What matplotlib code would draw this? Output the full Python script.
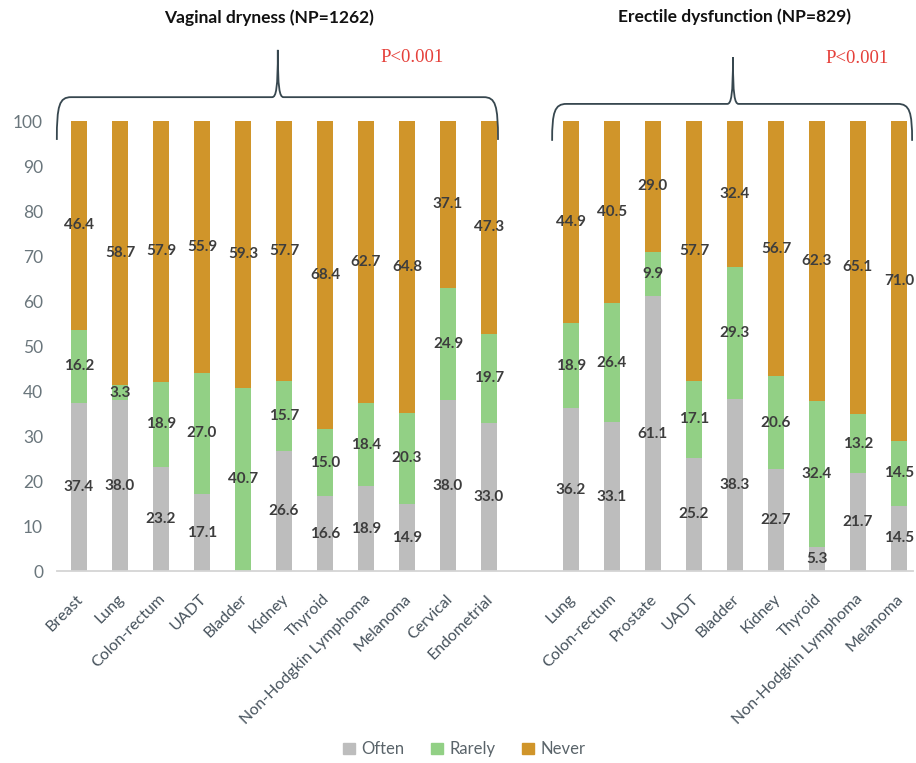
import matplotlib
matplotlib.use("Agg")
import matplotlib.pyplot as plt
import matplotlib.transforms as mtransforms
from matplotlib.path import Path
from matplotlib.patches import PathPatch, Patch

plt.rcParams["font.family"] = ["Lato", "DejaVu Sans"]

# vaginal dryness (women)
vd_cats = ["Breast", "Lung", "Colon-rectum", "UADT", "Bladder", "Kidney", "Thyroid",
           "Non-Hodgkin Lymphoma", "Melanoma", "Cervical", "Endometrial"]
vd_often = [37.4, 38.0, 23.2, 17.1, 0.0, 26.6, 16.6, 18.9, 14.9, 38.0, 33.0]
vd_rarely = [16.2, 3.3, 18.9, 27.0, 40.7, 15.7, 15.0, 18.4, 20.3, 24.9, 19.7]
vd_never = [46.4, 58.7, 57.9, 55.9, 59.3, 57.7, 68.4, 62.7, 64.8, 37.1, 47.3]

# erectile dysfunction (men)
ed_cats = ["Lung", "Colon-rectum", "Prostate", "UADT", "Bladder", "Kidney", "Thyroid",
           "Non-Hodgkin Lymphoma", "Melanoma"]
ed_often = [36.2, 33.1, 61.1, 25.2, 38.3, 22.7, 5.3, 21.7, 14.5]
ed_rarely = [18.9, 26.4, 9.9, 17.1, 29.3, 20.6, 32.4, 13.2, 14.5]
ed_never = [44.9, 40.5, 29.0, 57.7, 32.4, 56.7, 62.3, 65.1, 71.0]

c_often = "#bdbdbd"
c_rarely = "#92d085"
c_never = "#d0952a"

cats = vd_cats + ed_cats
often = vd_often + ed_often
rarely = vd_rarely + ed_rarely
never = vd_never + ed_never
x = list(range(len(vd_cats))) + [len(vd_cats) + 1 + i for i in range(len(ed_cats))]

fig = plt.figure(figsize=(9.16, 7.63), dpi=100)
ax = fig.add_axes([0.0622, 0.2516, 0.9345, 0.5898])

bottom2 = [a + b for a, b in zip(often, rarely)]
b1 = ax.bar(x, often, width=0.41, color=c_often)
b2 = ax.bar(x, rarely, width=0.41, bottom=often, color=c_rarely)
b3 = ax.bar(x, never, width=0.41, bottom=bottom2, color=c_never)
for bars, vals in [(b1, often), (b2, rarely), (b3, never)]:
    ax.bar_label(bars, labels=[f"{v:.1f}" if v > 0 else "" for v in vals],
                 label_type="center", fontsize=11, fontweight="bold", color="#3d3d3d")

ax.set_xlim(-0.5366, 20.341)
ax.set_ylim(0, 100)
ax.set_yticks(range(0, 101, 10))
ax.set_xticks(x)
ax.set_xticklabels(cats, rotation=45, ha="right", va="top", rotation_mode="anchor",
                   fontsize=11.5, color="#46525c")
ax.tick_params(axis="x", length=0, pad=15)
ax.tick_params(axis="y", length=0, pad=10, labelsize=12.5, labelcolor="#6a767c")
shift = mtransforms.ScaledTranslation(-3 / 100, 0, fig.dpi_scale_trans)
for lbl in ax.get_xticklabels():
    lbl.set_transform(lbl.get_transform() + shift)
for s in ["top", "right", "left"]:
    ax.spines[s].set_visible(False)
ax.spines["bottom"].set_color("#d4d4d4")
ax.spines["bottom"].set_linewidth(1.3)


def brace(x0, x1, xm, yb, yh, ytip):
    verts = [(x0, yb), (x0, yh - 1.8), (x0 + 0.06, yh), (x0 + 0.35, yh),
             (xm - 0.14, yh),
             (xm - 0.04, yh), (xm, yh + 2.0), (xm, ytip),
             (xm, yh + 2.0), (xm + 0.04, yh), (xm + 0.14, yh),
             (x1 - 0.35, yh),
             (x1 - 0.06, yh), (x1, yh - 1.8), (x1, yb)]
    codes = [Path.MOVETO, Path.CURVE4, Path.CURVE4, Path.CURVE4,
             Path.LINETO,
             Path.CURVE4, Path.CURVE4, Path.CURVE4,
             Path.CURVE4, Path.CURVE4, Path.CURVE4,
             Path.LINETO,
             Path.CURVE4, Path.CURVE4, Path.CURVE4]
    ax.add_patch(PathPatch(Path(verts, codes), facecolor="none", edgecolor="#37474f",
                           linewidth=1.3, clip_on=False))


brace(-0.54, 10.22, 4.85, 95.8, 105.3, 115.8)
brace(11.54, 20.32, 15.95, 95.6, 103.8, 114.2)

ax.text(4.63, 122.9, "Vaginal dryness (NP=1262)", ha="center", va="center",
        fontsize=12.5, fontweight="bold", color="#111111")
ax.text(15.98, 123.1, "Erectile dysfunction (NP=829)", ha="center", va="center",
        fontsize=12.5, fontweight="bold", color="#111111")
ax.text(8.12, 114.2, "P<0.001", ha="center", va="center", fontsize=13.5,
        color="#e5403a", family="Liberation Serif")
ax.text(18.98, 113.8, "P<0.001", ha="center", va="center", fontsize=13.5,
        color="#e5403a", family="Liberation Serif")

handles = [Patch(color=c_often, label="Often"), Patch(color=c_rarely, label="Rarely"),
           Patch(color=c_never, label="Never")]
fig.legend(handles=handles, loc="center", bbox_to_anchor=(0.507, 0.018), ncol=3,
           frameon=False, fontsize=12, handlelength=0.7, handleheight=0.7,
           handletextpad=0.4, columnspacing=1.6, labelcolor="#5a646a")

fig.savefig("out.png", dpi=100)
